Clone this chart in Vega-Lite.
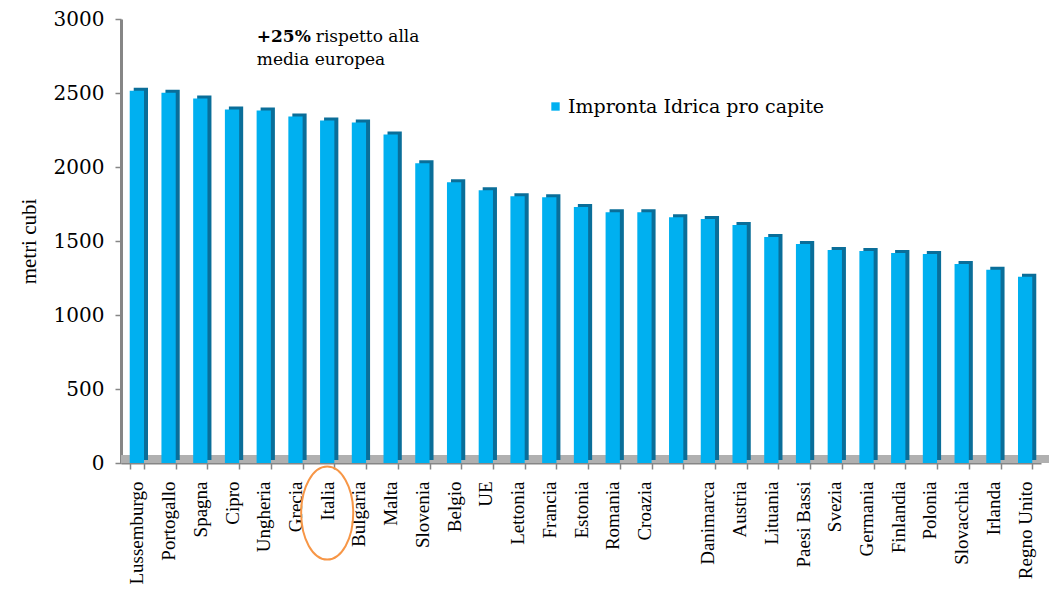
{
  "$schema": "https://vega.github.io/schema/vega-lite/v6.json",
  "width": 920,
  "height": 444,
  "autosize": "none",
  "padding": {"left": 121, "top": 19, "right": 18, "bottom": 127},
  "background": "white",
  "config": {
    "view": {"stroke": null},
    "font": "DejaVu Serif"
  },
  "data": {
    "values": [
      {"paese": "Lussemburgo", "valore": 2515},
      {"paese": "Portogallo", "valore": 2502},
      {"paese": "Spagna", "valore": 2462},
      {"paese": "Cipro", "valore": 2388},
      {"paese": "Ungheria", "valore": 2381},
      {"paese": "Grecia", "valore": 2341},
      {"paese": "Italia", "valore": 2314},
      {"paese": "Bulgaria", "valore": 2300},
      {"paese": "Malta", "valore": 2220},
      {"paese": "Slovenia", "valore": 2025},
      {"paese": "Belgio", "valore": 1897},
      {"paese": "UE", "valore": 1843},
      {"paese": "Lettonia", "valore": 1803},
      {"paese": "Francia", "valore": 1796},
      {"paese": "Estonia", "valore": 1729},
      {"paese": "Romania", "valore": 1695},
      {"paese": "Croazia", "valore": 1695},
      {"paese": " ", "valore": 1661},
      {"paese": "Danimarca", "valore": 1648},
      {"paese": "Austria", "valore": 1608},
      {"paese": "Lituania", "valore": 1527},
      {"paese": "Paesi Bassi", "valore": 1480},
      {"paese": "Svezia", "valore": 1439},
      {"paese": "Germania", "valore": 1433},
      {"paese": "Finlandia", "valore": 1419},
      {"paese": "Polonia", "valore": 1412},
      {"paese": "Slovacchia", "valore": 1345},
      {"paese": "Irlanda", "valore": 1305},
      {"paese": "Regno Unito", "valore": 1258}
    ]
  },
  "encoding": {
    "x": {
      "field": "paese",
      "type": "nominal",
      "sort": null,
      "scale": {"paddingInner": 0.55, "paddingOuter": 0.275},
      "axis": {
        "title": null,
        "labelAngle": -90,
        "labelAlign": "right",
        "labelBaseline": "middle",
        "labelFont": "Liberation Serif",
        "labelFontSize": 19,
        "labelColor": "black",
        "labelPadding": 12,
        "labelLimit": 0,
        "domainColor": "#868686",
        "domainWidth": 2,
        "tickColor": "#868686",
        "tickWidth": 1.5,
        "tickSize": 6,
        "tickBand": "extent"
      }
    },
    "y": {
      "field": "valore",
      "type": "quantitative",
      "scale": {"domain": [0, 3000], "nice": false},
      "axis": {
        "title": "metri cubi",
        "titleFont": "Liberation Serif",
        "titleFontSize": 21,
        "titleFontWeight": "normal",
        "titleColor": "black",
        "titlePadding": 14,
        "values": [0, 500, 1000, 1500, 2000, 2500, 3000],
        "format": "d",
        "grid": false,
        "labelFont": "DejaVu Serif",
        "labelFontSize": 20,
        "labelColor": "black",
        "labelPadding": 11,
        "domainColor": "#868686",
        "domainWidth": 3,
        "tickColor": "#868686",
        "tickWidth": 1.5,
        "tickSize": 6
      }
    }
  },
  "layer": [
    {
      "data": {"values": [{"base": 0}]},
      "mark": {"type": "rule", "color": "#B0B0B0", "strokeWidth": 8, "yOffset": -4},
      "encoding": {"y": {"field": "base", "type": "quantitative"}, "x": {"value": 0}, "x2": {"value": 928}}
    },
    {
      "mark": {"type": "bar", "color": "#0A6E99", "xOffset": 4, "yOffset": -3}
    },
    {
      "mark": {"type": "bar"},
      "encoding": {
        "color": {
          "datum": "Impronta Idrica pro capite",
          "scale": {"range": ["#00B0F0"]},
          "legend": {
            "title": null,
            "orient": "none",
            "legendX": 425,
            "legendY": 78,
            "symbolType": "square",
            "symbolSize": 70,
            "symbolStrokeWidth": 0,
            "labelFont": "DejaVu Serif",
            "labelFontSize": 19,
            "labelColor": "black",
            "labelOffset": 3,
            "labelLimit": 0
          }
        }
      }
    },
    {
      "data": {"values": [{"paese": "Ungheria", "y": 2845, "t": "+25%"}]},
      "mark": {"type": "text", "fontWeight": "bold", "fontSize": 17, "font": "DejaVu Serif", "align": "left", "baseline": "alphabetic", "dx": -7, "color": "black"},
      "encoding": {"x": {"field": "paese", "type": "nominal", "sort": null}, "y": {"field": "y", "type": "quantitative"}, "text": {"field": "t"}}
    },
    {
      "data": {"values": [{"paese": "Ungheria", "y": 2845, "t": "rispetto alla"}]},
      "mark": {"type": "text", "fontSize": 17, "font": "DejaVu Serif", "align": "left", "baseline": "alphabetic", "dx": 52, "color": "black"},
      "encoding": {"x": {"field": "paese", "type": "nominal", "sort": null}, "y": {"field": "y", "type": "quantitative"}, "text": {"field": "t"}}
    },
    {
      "data": {"values": [{"paese": "Ungheria", "y": 2689, "t": "media europea"}]},
      "mark": {"type": "text", "fontSize": 17, "font": "DejaVu Serif", "align": "left", "baseline": "alphabetic", "dx": -7, "color": "black"},
      "encoding": {"x": {"field": "paese", "type": "nominal", "sort": null}, "y": {"field": "y", "type": "quantitative"}, "text": {"field": "t"}}
    },
    {
      "data": {"values": [{"paese": "Italia", "y": -338}]},
      "mark": {
        "type": "point",
        "shape": "M -0.56 0 A 0.56 1 0 1 0 0.56 0 A 0.56 1 0 1 0 -0.56 0 Z",
        "size": 8649,
        "filled": false,
        "stroke": "#F79646",
        "strokeWidth": 2,
        "opacity": 1,
        "clip": false
      },
      "encoding": {"x": {"field": "paese", "type": "nominal", "sort": null}, "y": {"field": "y", "type": "quantitative"}}
    }
  ]
}
